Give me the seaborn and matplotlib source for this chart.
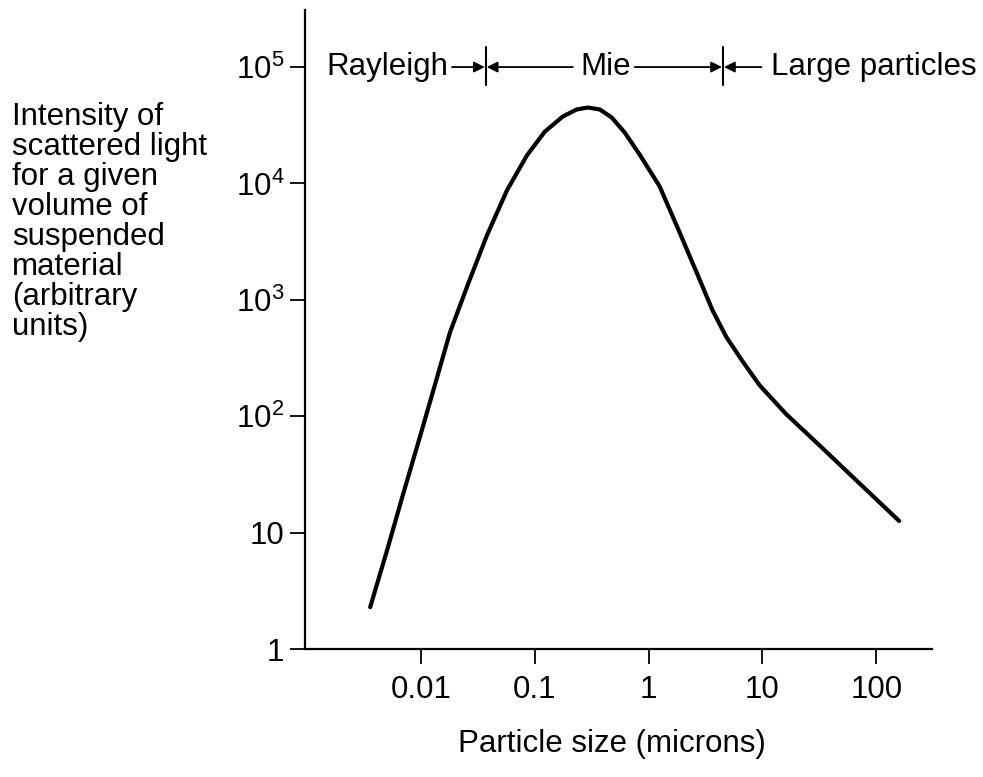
import pandas as pd
import seaborn as sns
import matplotlib.pyplot as plt

# values
size_um = [0.00357, 0.00503, 0.00695, 0.0098, 0.01327, 0.01795, 0.0258, 0.0379,
           0.0568, 0.0851, 0.1224, 0.176, 0.233, 0.292, 0.372, 0.473, 0.616,
           0.834, 1.25, 1.87, 2.80, 3.64, 4.83, 6.68, 9.42, 16.2, 31.6, 71, 159]
intensity = [2.29, 7.08, 21.4, 67.3, 188, 526, 1358, 3580,
             8710, 17400, 27900, 37600, 43200, 44900, 43200, 36900, 27400,
             17700, 9420, 3800, 1500, 813, 477, 297, 185, 104, 56.4, 26.6, 12.6]

x_ticks = [0.01, 0.1, 1, 10, 100]
x_labels = ["0.01", "0.1", "1", "10", "100"]
y_ticks = [1, 10, 1e2, 1e3, 1e4, 1e5]
y_labels = ["1", "10", r"$\mathregular{10^2}$", r"$\mathregular{10^3}$",
            r"$\mathregular{10^4}$", r"$\mathregular{10^5}$"]

# regime boundaries (microns)
rayleigh_mie = 0.037
mie_large = 4.5

sns.set_style("ticks")
plt.rcParams["font.family"] = ["Liberation Sans", "DejaVu Sans"]
plt.rcParams["mathtext.fontset"] = "custom"
plt.rcParams["mathtext.rm"] = "Liberation Sans"
plt.rcParams["text.color"] = "black"

df = pd.DataFrame({"size": size_um, "intensity": intensity})

fig = plt.figure(figsize=(9.83, 7.77), dpi=100)
ax = fig.add_axes([0.3103, 0.1647, 0.6378, 0.8224])
ax.set_xscale("log")
ax.set_yscale("log")

sns.lineplot(data=df, x="size", y="intensity", ax=ax, color="black",
             linewidth=3, sort=False)
ax.lines[0].set_solid_joinstyle("round")

ax.set_xlim(10 ** -3.02, 10 ** 2.49)
ax.set_ylim(1, 10 ** 5.49)
ax.set_xticks(x_ticks)
ax.set_xticklabels(x_labels)
ax.set_yticks(y_ticks)
ax.set_yticklabels(y_labels)
ax.minorticks_off()
ax.tick_params(axis="both", labelsize=22.5, length=11, width=1.3,
               color="black", labelcolor="black")
ax.tick_params(axis="x", pad=8)
ax.tick_params(axis="y", pad=4)
sns.despine(ax=ax)
for s in ["left", "bottom"]:
    ax.spines[s].set_linewidth(1.6)
    ax.spines[s].set_color("black")

ax.set_xlabel("Particle size (microns)", fontsize=22.5, color="black")
ax.set_ylabel("")
ax.xaxis.set_label_coords(0.49, -0.125)

fig.text(12 / 983, 1 - 222 / 777,
         "Intensity of\nscattered light\nfor a given\nvolume of\nsuspended\nmaterial\n(arbitrary\nunits)",
         fontsize=22.5, ha="left", va="center", linespacing=1.0, color="black")

# regime markers along the top
for b in [rayleigh_mie, mie_large]:
    ax.plot([b, b], [7e4, 1.5e5], color="black", linewidth=1.5)

arrow = dict(arrowstyle="-|>", color="black", lw=1.3, mutation_scale=16,
             shrinkA=0, shrinkB=0)
ax.annotate("", xy=(rayleigh_mie * 0.98, 1e5), xytext=(0.0187, 1e5), arrowprops=arrow)
ax.annotate("", xy=(rayleigh_mie * 1.02, 1e5), xytext=(0.2155, 1e5), arrowprops=arrow)
ax.annotate("", xy=(mie_large * 0.98, 1e5), xytext=(0.754, 1e5), arrowprops=arrow)
ax.annotate("", xy=(mie_large * 1.02, 1e5), xytext=(9.8, 1e5), arrowprops=arrow)

ax.text(0.0173, 1e5, "Rayleigh", fontsize=22.5, ha="right", va="center", color="black")
ax.text(0.42, 1e5, "Mie", fontsize=22.5, ha="center", va="center", color="black")
ax.text(12.0, 1e5, "Large particles", fontsize=22.5, ha="left", va="center", color="black")

plt.savefig("out.png", dpi=100)
